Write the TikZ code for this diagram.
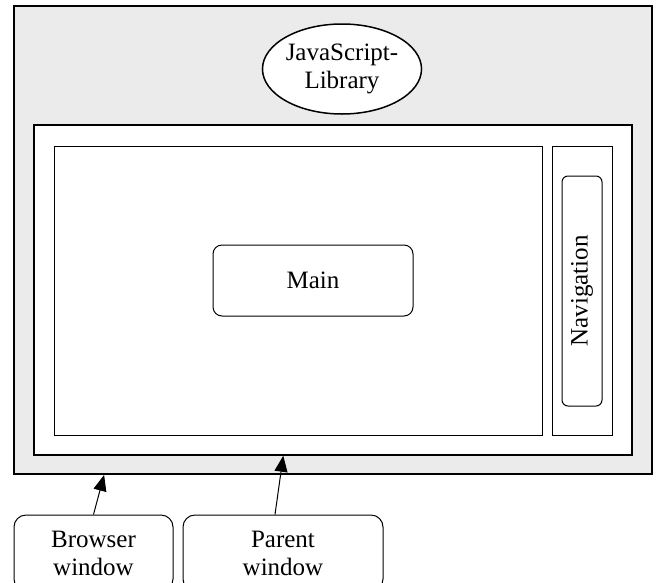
\documentclass[tikz,border=0pt]{standalone}
\usepackage{fontspec}
\setmainfont{Liberation Serif}
\usetikzlibrary{shapes.geometric,arrows.meta,calc}
\definecolor{panelgray}{HTML}{EBEBEB}
\begin{document}
\begin{tikzpicture}[x=1pt,y=-1pt,
  txt/.style={font=\fontsize{25}{28}\selectfont, align=center},
  frame/.style={draw, rectangle, inner sep=0pt},
  roundbox/.style={draw, rectangle, rounded corners=9pt, line width=1pt, inner sep=0pt, txt},
  arr/.style={-{Triangle[length=16pt,width=13pt]}, line width=1pt}
]
\useasboundingbox (0,0) rectangle (656,582);
\clip (0,0) rectangle (656,582);
% browser window (outer)
\node[frame, fill=panelgray, line width=1.8pt, minimum width=638pt, minimum height=468pt] (browser) at (333,240) {};
% parent window
\node[frame, fill=white, line width=1.5pt, minimum width=598pt, minimum height=330pt] (parent) at (333,290) {};
% main frame
\node[frame, line width=1pt, minimum width=488pt, minimum height=289pt] (mainframe) at (298,290.5) {};
% navigation frame
\node[frame, line width=1pt, minimum width=60pt, minimum height=289pt] (navframe) at (582,290.5) {};
% navigation box
\node[roundbox, rounded corners=6pt, minimum width=40pt, minimum height=230pt] (navbox) at (582,291) {};
\node[txt, rotate=90] (navlabel) at (navbox.center) {Navigation};
% main box
\node[roundbox, minimum width=200pt, minimum height=71pt] (mainbox) at (313,280.5) {Main};
% javascript library
\node[draw, ellipse, fill=white, line width=1.5pt, inner sep=0pt, minimum width=158pt, minimum height=90pt, txt] (jslib) at (342,69) {JavaScript-\\Library};
% bottom labels
\node[roundbox, rounded corners=12pt, minimum width=159pt, minimum height=76pt] (bwin) at (93.5,553) {Browser\\window};
\node[roundbox, rounded corners=12pt, minimum width=200pt, minimum height=76pt] (pwin) at (283,553) {Parent\\window};
% arrows
\draw[arr] (bwin.north) -- ($(browser.south west)+(91,0)$);
\draw[arr] ($(pwin.north)+(-8,0)$) -- ($(parent.south west)+(250,0)$);
\end{tikzpicture}
\end{document}
